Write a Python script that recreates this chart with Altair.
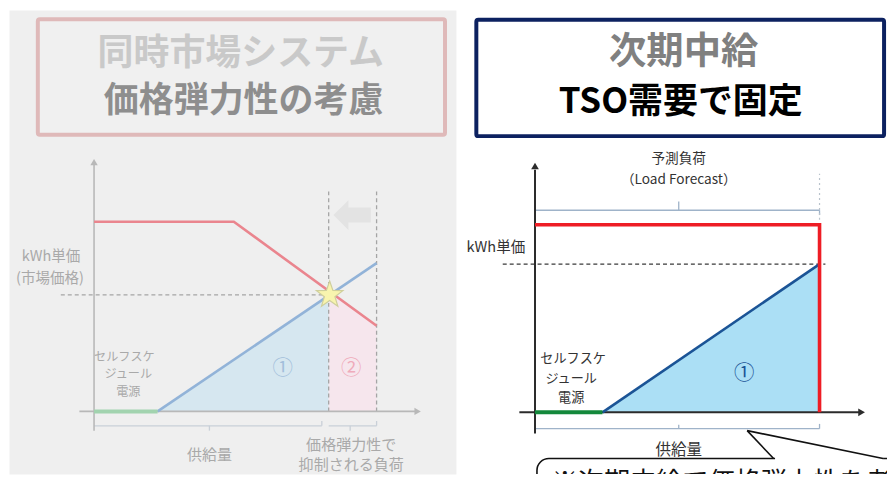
import altair as alt
import pandas as pd

FONT = "Noto Sans CJK JP"
FONT_SCALE = 0.975  # the whole diagram is drawn slightly reduced so that it fits the page

# ------------------------------------------------------------------
# Left panel: 同時市場システム (diagram units: supply quantity / price,
# origin at the crossing of the two axes)
# ------------------------------------------------------------------
L_X_DOMAIN = [-87, 370.2]
L_Y_DOMAIN = [-65, 417]

L_BOX_X, L_BOX_X2, L_BOX_Y, L_BOX_Y2 = [-57.5], [359], [407.5], [287.5]
L_TITLE1 = ["同時市場システム"]
L_TITLE1_X, L_TITLE1_Y = [150], [371]
L_TITLE2 = ["価格弾力性の考慮"]
L_TITLE2_X, L_TITLE2_Y = [153], [322]

L_DEMAND_X = [0, 143, 289]
L_DEMAND_Y = [197, 197, 89]
L_SUPPLY_X = [65, 289]
L_SUPPLY_Y = [0, 154]
L_AREA1_X = [65, 240]
L_AREA1_Y = [0, 120]
L_AREA2_X = [240, 289]
L_AREA2_Y = [125, 89]
L_SELF_X = [0, 65]
L_SELF_Y = [0, 0]
L_EQ_X, L_EQ_Y = [241], [121]

L_AXIS_X, L_AXIS_Y, L_AXIS_X2, L_AXIS_Y2 = [0, -15], [-20, 0], [0, 330], [259, 0]
L_ARROW_UP_X, L_ARROW_UP_Y = [0], [259]
L_ARROW_R_X, L_ARROW_R_Y = [331], [0]

L_DASH_X, L_DASH_Y, L_DASH_X2, L_DASH_Y2 = [-34, 240, 289], [121, 0, 0], [240, 240, 289], [121, 230, 230]
L_SHIFT_X, L_SHIFT_Y = [264], [204]

L_BRACKET_X = [0, 233, 118, 240, 289, 262]
L_BRACKET_Y = [-15, -15, -15, -15, -15, -15]
L_BRACKET_X2 = [233, 233, 118, 289, 289, 262]
L_BRACKET_Y2 = [-15, -10, -20, -15, -10, -20]

L_PRICE_T = ["kWh単価", "(市場価格)"]
L_PRICE_X, L_PRICE_Y = [-44, -45], [160, 138]
L_SELF_T = ["セルフスケ", "ジュール", "電源"]
L_SELF_TX, L_SELF_TY = [31, 35, 35], [57, 39, 20]
L_BOTTOM_T = ["供給量", "価格弾力性で", "抑制される負荷"]
L_BOTTOM_X, L_BOTTOM_Y = [118, 263, 263], [-45, -35, -56]
L_NUM1_T, L_NUM1_X, L_NUM1_Y = ["①"], [193], [44]
L_NUM2_T, L_NUM2_X, L_NUM2_Y = ["②"], [263], [44]

# ------------------------------------------------------------------
# Right panel: 次期中給
# ------------------------------------------------------------------
R_X_DOMAIN = [-78.8, 360]
R_Y_DOMAIN = [-64, 418]

R_BOX_X, R_BOX_X2, R_BOX_Y, R_BOX_Y2 = [-60], [357], [408], [287]
R_TITLE1 = ["次期中給"]
R_TITLE1_X, R_TITLE1_Y = [152], [373]
R_TITLE2 = ["TSO需要で固定"]
R_TITLE2_X, R_TITLE2_Y = [149], [322]

R_DEMAND_X = [0, 291, 291]
R_DEMAND_Y = [195, 195, 0]
R_SUPPLY_X = [69, 291]
R_SUPPLY_Y = [0, 154]
R_SELF_X = [0, 69]
R_SELF_Y = [0, 0]

R_AXIS_X, R_AXIS_Y, R_AXIS_X2, R_AXIS_Y2 = [0, -16], [-22, 0], [0, 332], [252, 0]
R_ARROW_UP_X, R_ARROW_UP_Y = [0], [256]
R_ARROW_R_X, R_ARROW_R_Y = [334], [0]

R_DASH_X, R_DASH_Y, R_DASH_X2, R_DASH_Y2 = [-33], [154], [297], [154]
R_FAINT_X, R_FAINT_Y, R_FAINT_X2, R_FAINT_Y2 = [291], [200], [291], [248]

R_BRACKET_X = [0, 291, 147, 0, 291, 147]
R_BRACKET_Y = [210, 210, 210, -17, -17, -17]
R_BRACKET_X2 = [291, 291, 147, 291, 291, 147]
R_BRACKET_Y2 = [210, 205, 219, -17, -12, -13]

R_LOAD_T = ["予測負荷", "（Load Forecast）"]
R_LOAD_X, R_LOAD_Y = [147, 147], [263, 241]
R_PRICE_T, R_PRICE_X, R_PRICE_Y = ["kWh単価"], [-40], [171]
R_SELF_T = ["セルフスケ", "ジュール", "電源"]
R_SELF_TX, R_SELF_TY = [39, 37, 37], [55, 35, 15]
R_QTY_T, R_QTY_X, R_QTY_Y = ["供給量"], [147], [-39]
R_NUM1_T, R_NUM1_X, R_NUM1_Y = ["①"], [214], [40]

R_CALLOUT_X, R_CALLOUT_X2, R_CALLOUT_Y, R_CALLOUT_Y2 = [2], [420], [-48], [-140]
R_POINTER_X, R_POINTER_Y, R_POINTER_X2, R_POINTER_Y2 = [217, 217], [-19, -19], [244, 356], [-48, -48]
R_GAP_X, R_GAP_Y, R_GAP_X2, R_GAP_Y2 = [245.5], [-48], [356], [-48]
R_NOTE_T, R_NOTE_X, R_NOTE_Y = ["※次期中給で価格弾力性を考慮しない"], [17], [-60]

STAR = ("M0,-1 L0.235,-0.324 L0.951,-0.309 L0.38,0.124 L0.588,0.809 L0,0.4 "
        "L-0.588,0.809 L-0.38,0.124 L-0.951,-0.309 L-0.235,-0.324 Z")
BLOCK_ARROW = "M-1,0 L-0.2,-0.8 L-0.2,-0.4 L1,-0.4 L1,0.4 L-0.2,0.4 L-0.2,0.8 Z"


def encs(dx, dy):
    return dict(
        x=alt.X("x:Q", scale=alt.Scale(domain=dx, nice=False, zero=False), axis=None),
        y=alt.Y("y:Q", scale=alt.Scale(domain=dy, nice=False, zero=False), axis=None),
    )


def df_pts(xs, ys):
    return pd.DataFrame({"x": xs, "y": ys, "i": list(range(len(xs)))})


def df_seg(xs, ys, x2s, y2s):
    return pd.DataFrame({"x": xs, "y": ys, "x2": x2s, "y2": y2s})


def df_txt(ts, xs, ys):
    return pd.DataFrame({"t": ts, "x": xs, "y": ys})


def rules(d, e, **kw):
    return alt.Chart(d).mark_rule(clip=True, **kw).encode(**e, x2="x2:Q", y2="y2:Q")


def rects(d, e, **kw):
    return alt.Chart(d).mark_rect(clip=True, **kw).encode(**e, x2="x2:Q", y2="y2:Q")


def line(d, e, **kw):
    return alt.Chart(d).mark_line(clip=True, **kw).encode(**e, order=alt.Order("i:Q"))


def area(d, e, **kw):
    return alt.Chart(d).mark_area(clip=True, **kw).encode(**e, y2=alt.datum(0))


def points(d, e, **kw):
    return alt.Chart(d).mark_point(clip=True, filled=True, **kw).encode(**e)


def texts(d, e, fontSize, **kw):
    base = dict(font=FONT, align="center", baseline="middle", fontSize=round(fontSize * FONT_SCALE, 1))
    base.update(kw)
    return alt.Chart(d).mark_text(clip=True, **base).encode(**e, text="t:N")


# ---------------- left panel ----------------
le = encs(L_X_DOMAIN, L_Y_DOMAIN)
LGRAY = "#a9a9a9"
left_layers = [
    rects(df_seg(L_BOX_X, L_BOX_Y, L_BOX_X2, L_BOX_Y2), le, fill="#f0f0f0",
          stroke="#dfb9b9", strokeWidth=4, cornerRadius=2),
    texts(df_txt(L_TITLE1, L_TITLE1_X, L_TITLE1_Y), le, 37, fontWeight="bold", color="#c9c9c9"),
    texts(df_txt(L_TITLE2, L_TITLE2_X, L_TITLE2_Y), le, 36, fontWeight="bold", color="#8e8e8e"),
    area(df_pts(L_AREA1_X, L_AREA1_Y), le, color="#d6e7f0"),
    area(df_pts(L_AREA2_X, L_AREA2_Y), le, color="#f6e6ed"),
    rules(df_seg(L_BRACKET_X, L_BRACKET_Y, L_BRACKET_X2, L_BRACKET_Y2), le, color="#c9d0d8", strokeWidth=1.3),
    rules(df_seg(L_DASH_X, L_DASH_Y, L_DASH_X2, L_DASH_Y2), le, color="#a5a5a5", strokeWidth=1.3, strokeDash=[4, 3]),
    rules(df_seg(L_AXIS_X, L_AXIS_Y, L_AXIS_X2, L_AXIS_Y2), le, color="#b8b8b8", strokeWidth=1.6),
    points(df_pts(L_ARROW_UP_X, L_ARROW_UP_Y), le, shape="triangle-up", size=55, color="#b8b8b8", opacity=1),
    points(df_pts(L_ARROW_R_X, L_ARROW_R_Y), le, shape="triangle-right", size=55, color="#b8b8b8", opacity=1),
    line(df_pts(L_DEMAND_X, L_DEMAND_Y), le, color="#ea858e", strokeWidth=2.6),
    line(df_pts(L_SUPPLY_X, L_SUPPLY_Y), le, color="#92b3d8", strokeWidth=2.6),
    line(df_pts(L_SELF_X, L_SELF_Y), le, color="#a2d3af", strokeWidth=4),
    points(df_pts(L_SHIFT_X, L_SHIFT_Y), le, shape=BLOCK_ARROW, size=1400, color="#e3e3e3", opacity=1),
    alt.Chart(df_pts(L_EQ_X, L_EQ_Y)).mark_point(clip=True, shape=STAR, size=780, filled=True,
                                               fill="#f8f4ae", stroke="#cfcf9c", strokeWidth=1.2,
                                               opacity=1).encode(**le),
    texts(df_txt(L_PRICE_T, L_PRICE_X, L_PRICE_Y), le, 15, color=LGRAY),
    texts(df_txt(L_SELF_T, L_SELF_TX, L_SELF_TY), le, 12.5, color=LGRAY),
    texts(df_txt(L_BOTTOM_T, L_BOTTOM_X, L_BOTTOM_Y), le, 15.5, color=LGRAY),
    texts(df_txt(L_NUM1_T, L_NUM1_X, L_NUM1_Y), le, 21, color="#a3bfdb"),
    texts(df_txt(L_NUM2_T, L_NUM2_X, L_NUM2_Y), le, 21, color="#efabbb"),
]
left = alt.layer(*left_layers).properties(
    width=449, height=466, view=alt.ViewBackground(fill="#efefef", stroke="transparent"))

# ---------------- right panel ----------------
re_ = encs(R_X_DOMAIN, R_Y_DOMAIN)
DARK = "#333333"
right_layers = [
    rects(df_seg(R_BOX_X, R_BOX_Y, R_BOX_X2, R_BOX_Y2), re_, fill="#ffffff",
          stroke="#0c2160", strokeWidth=4, cornerRadius=2),
    texts(df_txt(R_TITLE1, R_TITLE1_X, R_TITLE1_Y), re_, 38.5, fontWeight="bold", color="#808080"),
    texts(df_txt(R_TITLE2, R_TITLE2_X, R_TITLE2_Y), re_, 36, fontWeight="bold", color="#000000"),
    area(df_pts(R_SUPPLY_X, R_SUPPLY_Y), re_, color="#abdff5"),
    rules(df_seg(R_BRACKET_X, R_BRACKET_Y, R_BRACKET_X2, R_BRACKET_Y2), re_, color="#9fb3c9", strokeWidth=1.3),
    rules(df_seg(R_FAINT_X, R_FAINT_Y, R_FAINT_X2, R_FAINT_Y2), re_, color="#b9c3cc", strokeWidth=1.2, strokeDash=[2, 3]),
    rules(df_seg(R_DASH_X, R_DASH_Y, R_DASH_X2, R_DASH_Y2), re_, color="#3a3a3a", strokeWidth=1.3, strokeDash=[4, 3]),
    rules(df_seg(R_AXIS_X, R_AXIS_Y, R_AXIS_X2, R_AXIS_Y2), re_, color="#2b2b2b", strokeWidth=2),
    points(df_pts(R_ARROW_UP_X, R_ARROW_UP_Y), re_, shape="triangle-up", size=60, color="#2b2b2b", opacity=1),
    points(df_pts(R_ARROW_R_X, R_ARROW_R_Y), re_, shape="triangle-right", size=60, color="#2b2b2b", opacity=1),
    line(df_pts(R_SUPPLY_X, R_SUPPLY_Y), re_, color="#1b5496", strokeWidth=2.6),
    line(df_pts(R_SELF_X, R_SELF_Y), re_, color="#13883b", strokeWidth=4),
    line(df_pts(R_DEMAND_X, R_DEMAND_Y), re_, color="#ee1d25", strokeWidth=3.6, strokeJoin="miter"),
    texts(df_txt(R_LOAD_T, R_LOAD_X, R_LOAD_Y), re_, 14, color=DARK),
    texts(df_txt(R_PRICE_T, R_PRICE_X, R_PRICE_Y), re_, 15, color=DARK),
    texts(df_txt(R_SELF_T, R_SELF_TX, R_SELF_TY), re_, 13.5, color=DARK),
    texts(df_txt(R_QTY_T, R_QTY_X, R_QTY_Y), re_, 16, color=DARK),
    texts(df_txt(R_NUM1_T, R_NUM1_X, R_NUM1_Y), re_, 21, color="#1b5496"),
    rects(df_seg(R_CALLOUT_X, R_CALLOUT_Y, R_CALLOUT_X2, R_CALLOUT_Y2), re_, fill="#ffffff",
          stroke="#111111", strokeWidth=1.6, cornerRadius=12),
    rules(df_seg(R_GAP_X, R_GAP_Y, R_GAP_X2, R_GAP_Y2), re_, color="#ffffff", strokeWidth=3),
    rules(df_seg(R_POINTER_X, R_POINTER_Y, R_POINTER_X2, R_POINTER_Y2), re_, color="#111111", strokeWidth=1.6),
    texts(df_txt(R_NOTE_T, R_NOTE_X, R_NOTE_Y), re_, 27, color="#111111", align="left", baseline="top"),
]
right = alt.layer(*right_layers).properties(
    width=431, height=466, view=alt.ViewBackground(fill="#ffffff", stroke="transparent"))

chart = (
    alt.hconcat(left, right, spacing=0)
    .resolve_scale(x="independent", y="independent")
    .properties(padding=0)
)

chart.save("out.html", embed_options={"renderer": "svg", "actions": False})
